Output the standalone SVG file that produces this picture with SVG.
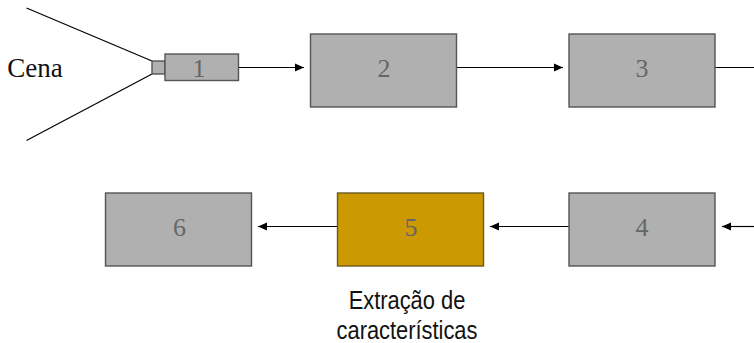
<svg xmlns="http://www.w3.org/2000/svg" width="754" height="343" viewBox="0 0 754 343">
<style>
.box{fill:#b0b0b0;stroke:#555;stroke-width:1.4}
.gold{fill:#cc9900;stroke:#6b5a20;stroke-width:1.4}
.num{font-family:"Liberation Serif",serif;font-size:26px;fill:#666;text-anchor:middle}
.cap{font-family:"Liberation Sans",sans-serif;font-size:25px;fill:#111;text-anchor:middle}
.con{stroke:#000;stroke-width:1.2;fill:none}
.arr{stroke:#000;stroke-width:1.2;fill:none;marker-end:url(#a)}
</style>
<defs><marker id="a" markerUnits="userSpaceOnUse" markerWidth="9" markerHeight="9" refX="9" refY="4.5" orient="auto"><path d="M0 0.500L9 4.500L0 8.500Z" fill="#000"/></marker></defs>
<rect width="754" height="343" fill="#fff"/>
<g id="connectors">
<path class="con" d="M26.500 8L152 61"/>
<path class="con" d="M26.500 140.500L152 74"/>
<path class="arr" d="M239 67.500H304"/>
<path class="arr" d="M457 67.500H563"/>
<path class="con" d="M715 67.500H754"/>
<path class="arr" d="M754 226.500H722"/>
<path class="arr" d="M569 226.500H490"/>
<path class="arr" d="M338 226.500H258"/>
</g>
<g id="cena"><text x="35" y="77" font-family="'Liberation Serif',serif" font-size="27" fill="#111" text-anchor="middle">Cena</text></g>
<g id="node1"><rect class="box" x="152" y="61" width="13" height="13"/><rect class="box" x="165" y="54" width="73.500" height="26.500"/><text class="num" x="199" y="77">1</text></g>
<g id="node2"><rect class="box" x="310.500" y="34" width="146" height="73"/><text class="num" x="384" y="77">2</text></g>
<g id="node3"><rect class="box" x="569" y="34" width="146" height="73"/><text class="num" x="642" y="77">3</text></g>
<g id="node4"><rect class="box" x="569" y="193" width="146" height="73"/><text class="num" x="642" y="236">4</text></g>
<g id="node5"><rect class="gold" x="337.500" y="193" width="146" height="73"/><text class="num" x="411" y="236">5</text></g>
<g id="node6"><rect class="box" x="105.500" y="193" width="146" height="73"/><text class="num" x="179.500" y="236">6</text></g>
<g id="caption"><text class="cap" transform="translate(407 309) scale(.875 1)">Extração de</text><text class="cap" transform="translate(407 339) scale(.875 1)">características</text></g>
</svg>
